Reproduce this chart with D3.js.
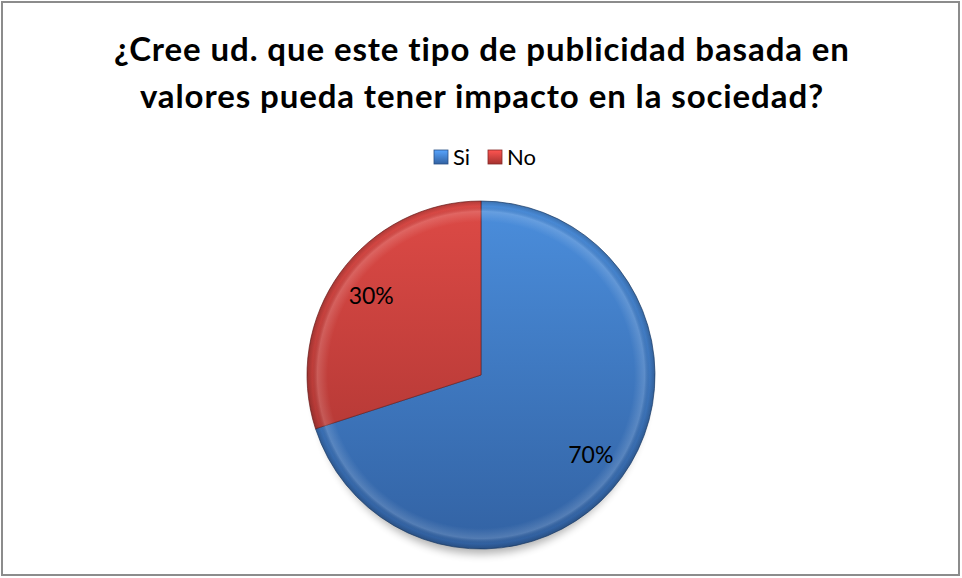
<!DOCTYPE html>
<html>
<head>
<meta charset="utf-8">
<script src="https://cdn.jsdelivr.net/npm/d3@7"></script>
<style>
  body { margin: 0; background: #fff; }
  svg { display: block; font-family: Lato, "Open Sans", sans-serif; }
</style>
</head>
<body>
<div id="chart"></div>
<script>
"use strict";

var categories = ["Si", "No"];
var values = [70, 30];
var labels = ["70%", "30%"];
var titleLines = ["¿Cree ud. que este tipo de publicidad basada en",
                  "valores pueda tener impacto en la sociedad?"];

var width = 962, height = 578;
var cx = 481, cy = 375, radius = 174;

var svg = d3.select("#chart").append("svg")
  .attr("width", width)
  .attr("height", height);

var defs = svg.append("defs");

// slice shading: top lighter, bottom darker (coords are local to the pie group)
var shades = [
  {id: "gSi", top: "#4b8edc", bot: "#3262a3"},
  {id: "gNo", top: "#dd4a46", bot: "#a5322f"}
];
shades.forEach(function(s) {
  var g = defs.append("linearGradient").attr("id", s.id)
    .attr("gradientUnits", "userSpaceOnUse")
    .attr("x1", 0).attr("y1", -radius).attr("x2", 0).attr("y2", radius);
  g.append("stop").attr("offset", "0%").attr("stop-color", s.top);
  g.append("stop").attr("offset", "100%").attr("stop-color", s.bot);
  var l = defs.append("linearGradient").attr("id", s.id + "L")
    .attr("x1", 0).attr("y1", 0).attr("x2", 0).attr("y2", 1);
  l.append("stop").attr("offset", "0%").attr("stop-color", d3.color(s.top).brighter(0.4));
  l.append("stop").attr("offset", "100%").attr("stop-color", s.bot);
});

// bevel near the rim
var bevel = defs.append("radialGradient").attr("id", "bevel")
  .attr("gradientUnits", "userSpaceOnUse")
  .attr("cx", 0).attr("cy", 0).attr("r", radius);
bevel.append("stop").attr("offset", "0.88").attr("stop-color", "#fff").attr("stop-opacity", 0);
bevel.append("stop").attr("offset", "0.94").attr("stop-color", "#fff").attr("stop-opacity", 0.16);
bevel.append("stop").attr("offset", "0.97").attr("stop-color", "#000").attr("stop-opacity", 0.02);
bevel.append("stop").attr("offset", "1").attr("stop-color", "#000").attr("stop-opacity", 0.2);

var shadow = defs.append("filter").attr("id", "shadow")
  .attr("x", "-20%").attr("y", "-20%").attr("width", "140%").attr("height", "140%");
shadow.append("feGaussianBlur").attr("stdDeviation", 4);

// frame
svg.append("rect")
  .attr("x", 2).attr("y", 2).attr("width", 957).attr("height", 573)
  .attr("fill", "#fff").attr("stroke", "#8c8c8c").attr("stroke-width", 2);

// title
svg.append("g").selectAll("text")
  .data(titleLines)
  .enter().append("text")
  .attr("x", 482)
  .attr("y", function(d, i) { return 61 + i * 47; })
  .attr("text-anchor", "middle")
  .attr("font-size", "33px")
  .attr("font-weight", "bold")
  .attr("letter-spacing", "0.9px")
  .attr("fill", "#000")
  .text(function(d) { return d; });

// legend
var legend = svg.append("g").attr("transform", "translate(434,150)");
var legendX = [0, 54];
var item = legend.selectAll("g")
  .data(categories)
  .enter().append("g")
  .attr("transform", function(d, i) { return "translate(" + legendX[i] + ",0)"; });
item.append("rect")
  .attr("width", 14).attr("height", 14)
  .attr("fill", function(d, i) { return "url(#" + shades[i].id + "L)"; })
  .attr("stroke", function(d, i) { return d3.color(shades[i].bot).darker(0.6); })
  .attr("stroke-width", 0.8);
item.append("text")
  .attr("x", 19).attr("y", 15)
  .attr("font-size", "22px")
  .attr("fill", "#000")
  .text(function(d) { return d; });

// pie
var pie = d3.pie().sort(null).value(function(d) { return d; });
var arcs = pie(values);
var arc = d3.arc().innerRadius(0).outerRadius(radius);
var labelArc = d3.arc().innerRadius(radius * 0.78).outerRadius(radius * 0.78);

var g = svg.append("g").attr("transform", "translate(" + cx + "," + cy + ")");

g.append("ellipse")
  .attr("cx", 0).attr("cy", 7).attr("rx", radius * 0.96).attr("ry", radius * 0.99)
  .attr("fill", "#000").attr("opacity", 0.3)
  .attr("filter", "url(#shadow)");

g.selectAll("path.slice")
  .data(arcs)
  .enter().append("path")
  .attr("class", "slice")
  .attr("d", arc)
  .attr("fill", function(d, i) { return "url(#" + shades[i].id + ")"; })
  .attr("stroke", function(d, i) { return d3.color(shades[i].bot).darker(1); })
  .attr("stroke-width", 0.7);

// rim bevel
g.append("circle")
  .attr("r", radius)
  .attr("fill", "url(#bevel)");

g.selectAll("text.lbl")
  .data(arcs)
  .enter().append("text")
  .attr("class", "lbl")
  .attr("transform", function(d) { return "translate(" + labelArc.centroid(d) + ")"; })
  .attr("text-anchor", "middle")
  .attr("dy", "0.36em")
  .attr("font-size", "23px")
  .attr("fill", "#000")
  .text(function(d, i) { return labels[i]; });
</script>
</body>
</html>
